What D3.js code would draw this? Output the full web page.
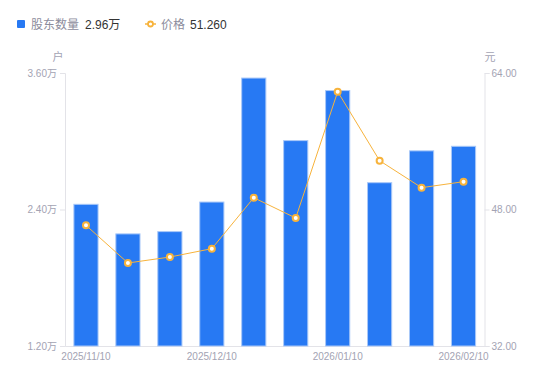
<!DOCTYPE html>
<html><head><meta charset="utf-8">
<script src="https://cdn.jsdelivr.net/npm/d3@7"></script>
<style>body{margin:0;background:#fff;font-family:"Liberation Sans","Noto Sans CJK SC",sans-serif;}</style>
</head><body><svg id="c" width="550" height="381"></svg>
<script>
const dates = ["2025/11/10","2025/11/20","2025/11/30","2025/12/10","2025/12/20","2025/12/31","2026/01/10","2026/01/20","2026/01/31","2026/02/10"];
const holders = [2.45, 2.19, 2.21, 2.47, 3.56, 3.01, 3.45, 2.64, 2.92, 2.96];
const prices = [46.15, 41.73, 42.43, 43.41, 49.38, 47.0, 61.81, 53.72, 50.56, 51.26];
const leftTicks = [1.2, 2.4, 3.6];
const rightTicks = [32, 48, 64];
const shownDates = ["2025/11/10","2025/12/10","2026/01/10","2026/02/10"];

const svg = d3.select("#c");
const FONT = "'Liberation Sans','Noto Sans CJK SC',sans-serif";
const L = 65, R = 484.5, T = 73, B = 346;
const x = d3.scaleBand().domain(dates).range([L, R]).paddingInner(0.4).paddingOuter(0.2);
const yL = d3.scaleLinear().domain([1.2, 3.6]).range([B, T]);
const yR = d3.scaleLinear().domain([32, 64]).range([B, T]);
const grey = "#a3a3b3", axisC = "#e3e3e8";

// axes
const gl = svg.append("g").attr("transform", `translate(${L},0)`)
  .call(d3.axisLeft(yL).tickValues(leftTicks).tickSize(5).tickPadding(3).tickFormat(d => d.toFixed(2) + "万"));
const gr = svg.append("g").attr("transform", `translate(${R},0)`)
  .call(d3.axisRight(yR).tickValues(rightTicks).tickSize(5).tickPadding(2).tickFormat(d => d.toFixed(2)));
const gb = svg.append("g").attr("transform", `translate(0,${B})`)
  .call(d3.axisBottom(x).tickValues(shownDates).tickSize(0).tickPadding(7));
[gl, gr, gb].forEach(g => {
  g.selectAll("path").attr("stroke", axisC);
  g.selectAll("line").attr("stroke", axisC);
  g.selectAll("text").attr("fill", grey).style("font-size", "10px").style("font-family", FONT);
});

// bars
svg.append("g").selectAll("rect").data(holders).join("rect")
  .attr("x", (d, i) => x(dates[i]) + 0.5)
  .attr("width", x.bandwidth() - 1)
  .attr("y", d => yL(d) + 0.5)
  .attr("height", d => B - yL(d) - 0.5)
  .attr("fill", "#2779f3")
  .attr("stroke", "#a9c8f8").attr("stroke-width", 1);

// line
const cx = (d, i) => x(dates[i]) + x.bandwidth() / 2;
svg.append("path").datum(prices)
  .attr("fill", "none").attr("stroke", "#f7b33c").attr("stroke-width", 1)
  .attr("d", d3.line().x(cx).y(d => yR(d)));
svg.append("g").selectAll("circle").data(prices).join("circle")
  .attr("cx", cx).attr("cy", d => yR(d)).attr("r", 3)
  .attr("fill", "#fff").attr("stroke", "#f7b33c").attr("stroke-width", 2);

// unit labels
svg.append("text").attr("x", 58).attr("y", 61).attr("text-anchor", "middle").attr("fill", grey).style("font-size", "11px").style("font-family", FONT).text("户");
svg.append("text").attr("x", 490).attr("y", 61).attr("text-anchor", "middle").attr("fill", grey).style("font-size", "11px").style("font-family", FONT).text("元");

// legend
const lg = svg.append("g").style("font-size", "12px").style("font-family", FONT);
lg.append("rect").attr("x", 17).attr("y", 20).attr("width", 8).attr("height", 8).attr("rx", 1).attr("fill", "#2779f3");
lg.append("text").attr("x", 31).attr("y", 29).attr("fill", "#8c8c9c").text("股东数量");
lg.append("text").attr("x", 85).attr("y", 29).attr("fill", "#333").text(holders[holders.length - 1].toFixed(2) + "万");
lg.append("line").attr("x1", 145).attr("x2", 156).attr("y1", 24).attr("y2", 24).attr("stroke", "#f7b33c").attr("stroke-width", 1.5);
lg.append("circle").attr("cx", 150.5).attr("cy", 24).attr("r", 2.5).attr("fill", "#fff").attr("stroke", "#f7b33c").attr("stroke-width", 1.8);
lg.append("text").attr("x", 161).attr("y", 29).attr("fill", "#8c8c9c").text("价格");
lg.append("text").attr("x", 190).attr("y", 29).attr("fill", "#333").text(prices[prices.length - 1].toFixed(3));
</script></body></html>
